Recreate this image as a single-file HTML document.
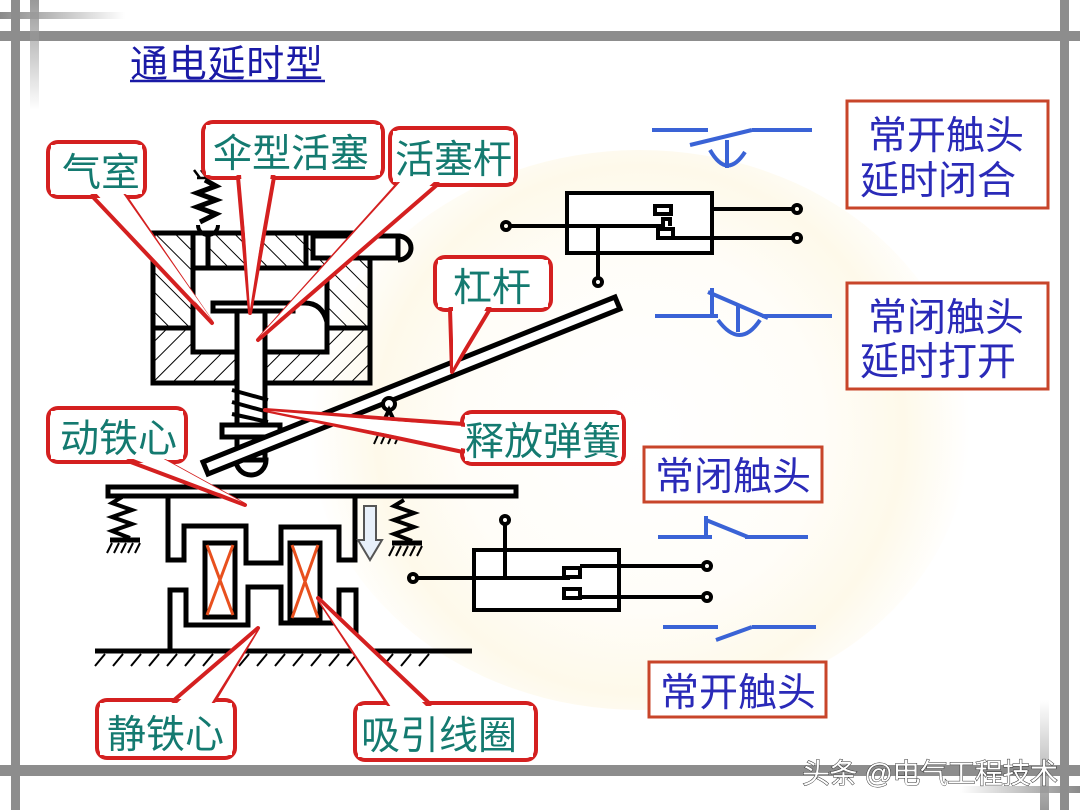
<!DOCTYPE html>
<html><head><meta charset="utf-8"><style>
html,body{margin:0;padding:0;background:#fff}
svg{display:block}
text{font-family:"Liberation Sans","Noto Sans CJK SC",sans-serif}
</style></head><body>
<svg width="1080" height="810" viewBox="0 0 1080 810" xmlns="http://www.w3.org/2000/svg">
<defs>
<radialGradient id="bg" cx="640" cy="430" r="330" gradientUnits="userSpaceOnUse">
<stop offset="0" stop-color="#fff"/><stop offset="0.55" stop-color="#fffdf8"/><stop offset="0.8" stop-color="#fef9ea"/><stop offset="1" stop-color="#fff"/>
</radialGradient>
<linearGradient id="hg" x1="0" x2="1"><stop offset="0" stop-color="#8a8a8a"/><stop offset="1" stop-color="#8a8a8a" stop-opacity="0"/></linearGradient>
<linearGradient id="vg" x1="0" x2="0" y1="0" y2="1"><stop offset="0" stop-color="#999"/><stop offset="1" stop-color="#999" stop-opacity="0"/></linearGradient>
<linearGradient id="vg2" x1="0" x2="0" y1="1" y2="0"><stop offset="0" stop-color="#999"/><stop offset="1" stop-color="#999" stop-opacity="0"/></linearGradient>
<linearGradient id="hg2" x1="1" x2="0"><stop offset="0" stop-color="#8a8a8a"/><stop offset="1" stop-color="#8a8a8a" stop-opacity="0"/></linearGradient>
<pattern id="h1" width="14" height="14" patternUnits="userSpaceOnUse" patternTransform="rotate(45)"><line x1="0" y1="0" x2="0" y2="14" stroke="#000" stroke-width="2"/></pattern>
<pattern id="h2" width="14" height="14" patternUnits="userSpaceOnUse" patternTransform="rotate(-45)"><line x1="0" y1="0" x2="0" y2="14" stroke="#000" stroke-width="2"/></pattern>
</defs>
<rect width="1080" height="810" fill="#fff"/>
<ellipse cx="640" cy="430" rx="330" ry="280" fill="url(#bg)"/>
<!-- decorative bars -->
<rect x="0" y="31" width="1080" height="10" fill="#8d8d8d"/>
<rect x="0" y="12" width="125" height="7" fill="url(#hg)"/>
<rect x="11" y="0" width="9" height="810" fill="#8d8d8d"/>
<rect x="30" y="0" width="9" height="110" fill="url(#vg)"/>
<rect x="0" y="765" width="1080" height="11" fill="#8d8d8d"/>
<rect x="960" y="786" width="120" height="7" fill="url(#hg2)"/>
<rect x="1040" y="700" width="9" height="110" fill="url(#vg2)"/>
<rect x="1060" y="0" width="9" height="810" fill="#8d8d8d"/>
<!-- title -->
<text x="130" y="77" font-size="38" fill="#1a1aa6" textLength="193">通电延时型</text>
<line x1="130" y1="81" x2="325" y2="81" stroke="#1a1aa6" stroke-width="2.5"/>

<!-- cylinder -->
<g stroke="#000" stroke-width="5" fill="none">
<rect x="153" y="233" width="217" height="95" fill="url(#h2)" stroke="none"/>
<rect x="153" y="328" width="217" height="55" fill="url(#h1)" stroke="none"/>
<rect x="153" y="233" width="217" height="150"/>
<rect x="193" y="268" width="134" height="84" fill="#fff"/>
<rect x="193" y="233" width="15" height="35" fill="#fff"/>
<line x1="306" y1="233" x2="306" y2="268"/>
<line x1="153" y1="328" x2="193" y2="328"/><line x1="327" y1="328" x2="370" y2="328"/>
<rect x="313" y="236" width="85" height="22" fill="#fff"/>
<path d="M398,236 A13,12 0 0 1 398,260" />
<path d="M213,303 H305 Q322,303 327,322" fill="none"/>
<rect x="237" y="310" width="28" height="150" fill="#fff"/>
<rect x="213" y="303" width="80" height="8" fill="#fff"/>
<rect x="222" y="425" width="58" height="12" fill="#fff"/>
<path d="M236,460 A15,15 0 0 0 266,460 Z" fill="#fff"/>
<path d="M232,390 L268,400 M232,402 L268,412 M232,414 L268,422" stroke-width="4"/>
<path d="M205,180 L216,186 L197,193 L216,200 L197,207 L216,214 L200,222" stroke-width="5"/>
<path d="M197,178 H218 M200,178 l-6,-8 M207,178 l-6,-8 M214,178 l-6,-8" stroke-width="2.5"/>
<path d="M198,225 A10,10 0 0 0 218,225" stroke-width="4"/>
</g>
<!-- lever -->
<g stroke="#000" stroke-width="5" fill="#fff">
<polygon points="203,462 615,297 620,309 208,474"/>
<circle cx="389" cy="404" r="6" stroke-width="4"/>
<path d="M389,410 L378,433 H400 Z" stroke-width="4"/>
<path d="M378,435 l-4,9 M385,435 l-4,9 M392,435 l-4,9 M399,435 l-4,9" stroke-width="2"/>
</g>
<!-- armature & cores -->
<g stroke="#000" stroke-width="5" fill="none">
<rect x="108" y="487" width="408" height="9" fill="#fff"/>
<path d="M168,497 V560 H184 V526 H246 V563 H281 V527 H339 V560 H355 V497"/>
<path d="M170,651 V590 H186 V625 H248 V587 H281 V623 H339 V590 H356 V651"/>
<rect x="205" y="543" width="30" height="74"/>
<rect x="290" y="543" width="30" height="77"/>
<line x1="95" y1="651" x2="472" y2="651"/>
<path d="M122,497 L112,503 L132,510 L112,517 L132,524 L112,531 L130,538" stroke-width="4"/>
<path d="M110,540 H140" />
<path d="M404,500 L394,506 L414,513 L394,520 L414,527 L394,534 L412,541" stroke-width="4"/>
<path d="M392,543 H422"/>
</g>
<g stroke="#000" stroke-width="2">
<path d="M112,543 l-5,10 M119,543 l-5,10 M126,543 l-5,10 M133,543 l-5,10 M140,543 l-5,10"/>
<path d="M394,546 l-5,10 M401,546 l-5,10 M408,546 l-5,10 M415,546 l-5,10 M422,546 l-5,10"/>
<path d="M105,654 l-10,12 M123,654 l-10,12 M141,654 l-10,12 M159,654 l-10,12 M177,654 l-10,12 M195,654 l-10,12 M213,654 l-10,12 M231,654 l-10,12 M249,654 l-10,12 M267,654 l-10,12 M285,654 l-10,12 M303,654 l-10,12 M321,654 l-10,12 M339,654 l-10,12 M357,654 l-10,12 M375,654 l-10,12 M393,654 l-10,12 M411,654 l-10,12 M429,654 l-10,12"/>
</g>
<g stroke="#e8501e" stroke-width="3">
<path d="M207,545 L233,615 M233,545 L207,615 M292,545 L318,618 M318,545 L292,618"/>
</g>
<polygon points="364,506 376,506 376,540 382,540 370,560 358,540 364,540" fill="#e8f0fa" stroke="#555" stroke-width="2"/>

<!-- contact blocks -->
<g stroke="#000" stroke-width="4" fill="none">
<rect x="567" y="193" width="145" height="60" fill="#fff"/>
<path d="M510,226 H663 V219 H670 V226"/>
<rect x="655" y="206" width="16" height="8"/>
<path d="M712,209 H793 M712,238 H793 M660,238 H712"/>
<rect x="658" y="229" width="15" height="9" fill="none"/>
<path d="M598,226 V278"/>
<circle cx="506" cy="226" r="4"/><circle cx="797" cy="209" r="4"/><circle cx="797" cy="238" r="4"/><circle cx="598" cy="282" r="4"/>
<rect x="474" y="550" width="145" height="60" fill="#fff"/>
<path d="M417,578 H570"/>
<rect x="564" y="568" width="16" height="9"/>
<rect x="564" y="589" width="16" height="9"/>
<path d="M580,566 H703 M580,597 H703"/>
<path d="M505,524 V578"/>
<circle cx="413" cy="578" r="4"/><circle cx="707" cy="566" r="4"/><circle cx="707" cy="597" r="4"/><circle cx="505" cy="520" r="4"/>
</g>
<!-- blue contacts -->
<g stroke="#3a63d6" stroke-width="4" fill="none">
<path d="M652,130 H708 M752,130 H812 M690,145 L752,130"/>
<path d="M727,140 V168 M710,150 Q727,180 745,152"/>
<path d="M655,316 H718 M762,316 H832 M708,292 L768,318 M712,288 V318"/>
<path d="M738,305 V332 M718,320 Q740,350 760,320"/>
<path d="M658,537 H712 M745,537 H808 M706,516 V537 M706,520 L748,537"/>
<path d="M663,627 H718 M752,627 H816 M716,640 L752,627"/>
</g>

<!-- callouts -->
<g stroke="#d42020" stroke-width="4" stroke-linejoin="round">
<rect x="48" y="142" width="97" height="55" rx="10" fill="#fff"/>
<polygon points="92,196 125,196 212,323" fill="#fff"/>
<rect x="203" y="122" width="180" height="56" rx="10" fill="#fff"/>
<polygon points="238,177 274,177 250,313" fill="#fff"/>
<rect x="390" y="128" width="126" height="57" rx="10" fill="#fff"/>
<polygon points="398,184 438,184 258,340" fill="#fff"/>
<rect x="435" y="257" width="116" height="53" rx="10" fill="#fff"/>
<polygon points="450,309 490,309 452,372" fill="#fff"/>
<rect x="462" y="412" width="162" height="52" rx="10" fill="#fff"/>
<polygon points="463,424 463,452 265,410" fill="#fff"/>
<rect x="48" y="408" width="138" height="54" rx="10" fill="#fff"/>
<polygon points="128,461 165,461 245,505" fill="#fff"/>
<rect x="97" y="700" width="138" height="58" rx="10" fill="#fff"/>
<polygon points="173,701 214,701 258,628" fill="#fff"/>
<rect x="355" y="703" width="181" height="57" rx="10" fill="#fff"/>
<polygon points="388,704 430,704 318,598" fill="#fff"/>
</g>
<g fill="#fff">
<rect x="51" y="145" width="91" height="49"/><polygon points="95,192 122,192 212,320"/>
<rect x="206" y="125" width="174" height="50"/><polygon points="241,174 271,174 250,309"/>
<rect x="393" y="131" width="120" height="51"/><polygon points="401,181 435,181 260,336"/>
<rect x="438" y="260" width="110" height="47"/><polygon points="453,306 487,306 453,368"/>
<rect x="465" y="415" width="156" height="46"/><polygon points="466,427 466,449 270,411"/>
<rect x="51" y="411" width="132" height="48"/><polygon points="131,458 162,458 242,502"/>
<rect x="100" y="703" width="132" height="52"/><polygon points="176,704 211,704 256,632"/>
<rect x="358" y="706" width="175" height="51"/><polygon points="391,707 427,707 320,602"/>
</g>
<g fill="#147a70" font-size="39">
<text x="62" y="186">气室</text>
<text x="213" y="167">伞型活塞</text>
<text x="395" y="173">活塞杆</text>
<text x="453" y="301">杠杆</text>
<text x="465" y="455">释放弹簧</text>
<text x="60" y="452">动铁心</text>
<text x="107" y="748">静铁心</text>
<text x="361" y="749">吸引线圈</text>
</g>
<!-- right boxes -->
<g fill="#fff" stroke="#c8452a" stroke-width="3">
<rect x="847" y="101" width="201" height="107"/>
<rect x="847" y="283" width="201" height="106"/>
<rect x="644" y="447" width="178" height="55"/>
<rect x="649" y="662" width="177" height="55"/>
</g>
<g fill="#2a2ab8" font-size="39">
<text x="868" y="149">常开触头</text>
<text x="860" y="194">延时闭合</text>
<text x="868" y="331">常闭触头</text>
<text x="860" y="375">延时打开</text>
<text x="655" y="490">常闭触头</text>
<text x="660" y="706">常开触头</text>
</g>
<text x="802" y="783" font-size="28" fill="#fff" stroke="#333" stroke-width="1" paint-order="stroke" textLength="256">头条 @电气工程技术</text>
</svg>
</body></html>
